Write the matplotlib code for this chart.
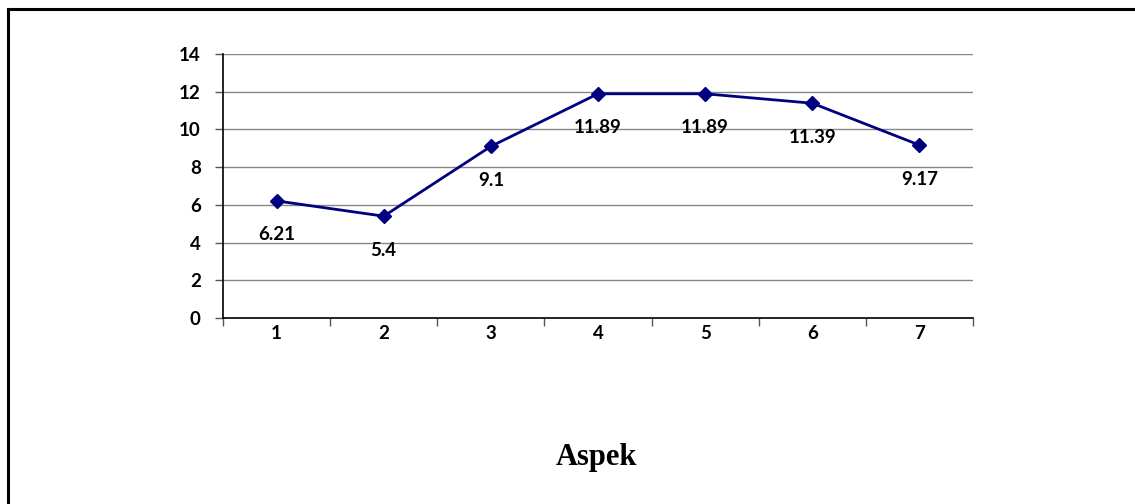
import matplotlib.pyplot as plt
from matplotlib.lines import Line2D

# Scores per aspect
aspects = [1, 2, 3, 4, 5, 6, 7]
scores = [6.21, 5.4, 9.1, 11.89, 11.89, 11.39, 9.17]
score_labels = ["6.21", "5.4", "9.1", "11.89", "11.89", "11.39", "9.17"]
y_ticks = [0, 2, 4, 6, 8, 10, 12, 14]

NAVY = "#000080"
LABEL_FONT = "Lato"
LABEL_SIZE = 13.5

fig = plt.figure(figsize=(11.35, 5.04), dpi=100)
fig.patch.set_facecolor("white")

# outer frame (top and left edges only, the rest runs off the page)
fig.add_artist(Line2D([8 / 1135, 1.0], [1 - 9 / 504, 1 - 9 / 504],
                      transform=fig.transFigure, color="black", lw=2.2))
fig.add_artist(Line2D([8 / 1135, 8 / 1135], [0.0, 1 - 9 / 504],
                      transform=fig.transFigure, color="black", lw=2.2))

ax = fig.add_axes([223 / 1135, 1 - 318 / 504, 750 / 1135, 264 / 504])

ax.plot(aspects, scores, color=NAVY, lw=2.0, marker="D", markersize=7,
        zorder=3)
for x, y, txt in zip(aspects, scores, score_labels):
    ax.annotate(txt, (x, y), xytext=(0, -24.5), textcoords="offset points",
                ha="center", va="center", fontsize=LABEL_SIZE,
                fontweight="bold", family=LABEL_FONT, color="black")

ax.set_xlim(0.5, 7.5)
ax.set_ylim(0, 14)
ax.set_yticks(y_ticks)
ax.yaxis.grid(True, color="#868686", lw=1.0)
ax.set_axisbelow(True)

# category labels centred, tick marks at the category boundaries
ax.set_xticks(aspects)
ax.set_xticklabels([str(a) for a in aspects])
ax.set_xticks([a + 0.5 for a in [0] + aspects], minor=True)
ax.tick_params(axis="x", which="major", length=0, pad=5)
ax.tick_params(axis="x", which="minor", length=6, width=1, color="#555555",
               direction="out")
ax.tick_params(axis="y", length=6, width=1, color="#555555", pad=10)

for lab in ax.get_xticklabels() + ax.get_yticklabels():
    lab.set_family(LABEL_FONT)
    lab.set_fontweight("bold")
    lab.set_fontsize(LABEL_SIZE)

for side in ["top", "right"]:
    ax.spines[side].set_visible(False)
for side in ["left", "bottom"]:
    ax.spines[side].set_color("black")
    ax.spines[side].set_linewidth(1.2)

fig.text(596 / 1135, 1 - 458 / 504, "Aspek", ha="center", va="center",
         family="Liberation Serif", fontweight="bold", fontsize=22)

fig.savefig("out.png", dpi=100, facecolor="white")
